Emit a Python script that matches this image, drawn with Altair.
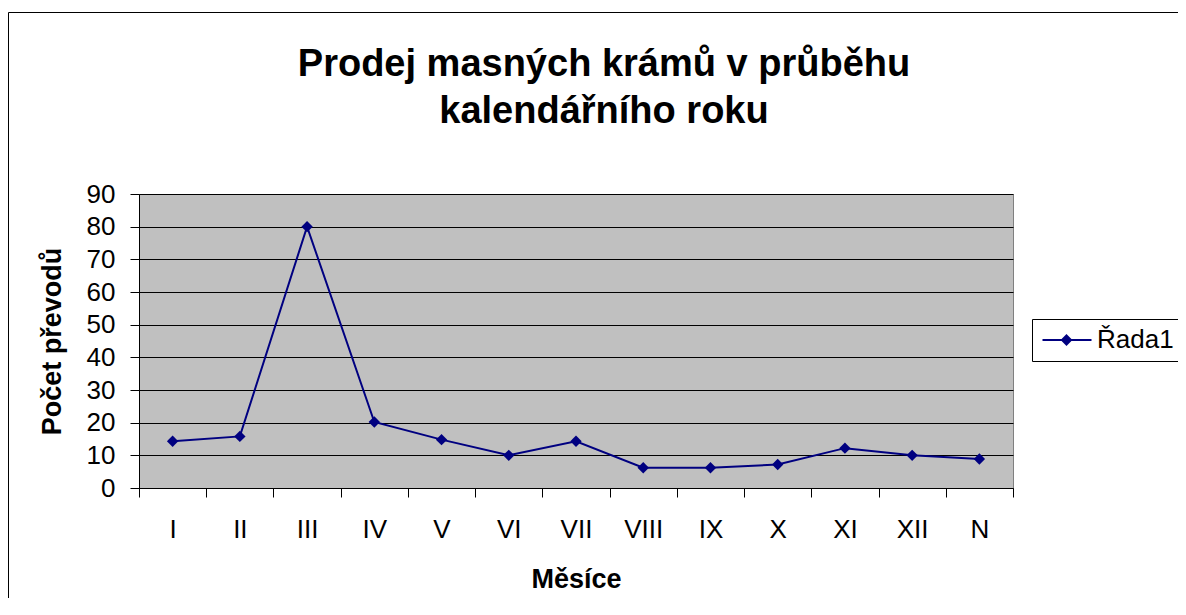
import altair as alt
import pandas as pd

months = ["I", "II", "III", "IV", "V", "VI", "VII", "VIII", "IX", "X", "XI", "XII", "N"]
values = [14.3, 15.8, 80, 20.2, 14.8, 10, 14.3, 6.2, 6.2, 7.2, 12.2, 10, 8.9]
series = ["Řada1"] * len(months)
y_ticks = [0, 10, 20, 30, 40, 50, 60, 70, 80, 90]

FONT = "Liberation Sans, Arial, Helvetica, sans-serif"
NAVY = "#000080"

df = pd.DataFrame({"month": months, "value": values, "series": series})

x_enc = alt.X(
    "month:N",
    sort=months,
    bandPosition=0.5,
    scale=alt.Scale(type="band", paddingInner=0, paddingOuter=0),
    axis=alt.Axis(
        tickBand="extent",
        grid=False,
        labelAngle=0,
        tickSize=9,
        labelPadding=19,
        labelFontSize=26,
        labelFont=FONT,
        labelColor="#000000",
        domainColor="#000000",
        tickColor="#000000",
        title="Měsíce",
        titleFont=FONT,
        titleFontSize=27,
        titleFontWeight="bold",
        titleColor="#000000",
        titleX=437,
        titleY=99,
        titleAlign="center",
        titleBaseline="alphabetic",
    ),
)

y_enc = alt.Y(
    "value:Q",
    scale=alt.Scale(domain=[0, 90], nice=False),
    axis=alt.Axis(
        values=y_ticks,
        grid=True,
        gridColor="#000000",
        gridWidth=1,
        tickSize=9,
        labelPadding=15,
        labelFontSize=26,
        labelFont=FONT,
        labelColor="#000000",
        domainColor="#000000",
        tickColor="#000000",
        title="Počet převodů",
        titleFont=FONT,
        titleFontSize=27,
        titleFontWeight="bold",
        titleColor="#000000",
        titleX=-79,
        titleY=147,
        titleAngle=270,
        titleAlign="center",
        titleBaseline="alphabetic",
    ),
)

border = alt.Chart(pd.DataFrame({"k": [0]})).mark_rect(
    fillOpacity=0, stroke="#000000", strokeWidth=1
).encode(
    x=alt.value(-130.5), x2=alt.value(1300), y=alt.value(-181.5), y2=alt.value(1000)
)

line = alt.Chart(df).mark_line(strokeWidth=2).encode(
    x=x_enc,
    y=y_enc,
    color=alt.Color(
        "series:N",
        title=None,
        scale=alt.Scale(range=[NAVY]),
        legend=alt.Legend(
            orient="none",
            legendX=893,
            legendY=125,
            symbolType="M-1.05,0L3.85,0M1.35,-0.45L1.8,0L1.35,0.45L0.9,0Z",
            symbolSize=400,
            symbolStrokeWidth=2,
            symbolFillColor=NAVY,
            symbolStrokeColor=NAVY,
            labelFontSize=26,
            labelFont=FONT,
            labelColor="#000000",
            labelOffset=31,
            padding=8,
            strokeColor="#000000",
            fillColor="#ffffff",
        ),
    ),
)

points = alt.Chart(df).mark_point(
    shape="diamond", filled=True, size=130, color=NAVY, opacity=1
).encode(x=x_enc, y=y_enc)

chart = alt.layer(border, line, points).properties(
    width=874,
    height=294,
    padding={"left": 131, "top": 186, "right": 165, "bottom": 110},
    autosize=alt.AutoSizeParams(type="none"),
    title=alt.TitleParams(
        text=["Prodej masných krámů v průběhu", "kalendářního roku"],
        font=FONT,
        fontSize=38,
        fontWeight="bold",
        color="#000000",
        anchor="middle",
        frame="group",
        baseline="top",
        lineHeight=47,
        offset=0,
        dx=28,
        dy=119,
    ),
    background="#ffffff",
).configure_view(fill="#C0C0C0", stroke="#808080", strokeWidth=1)

chart.save("out.html", embed_options={"renderer": "svg", "actions": False})
